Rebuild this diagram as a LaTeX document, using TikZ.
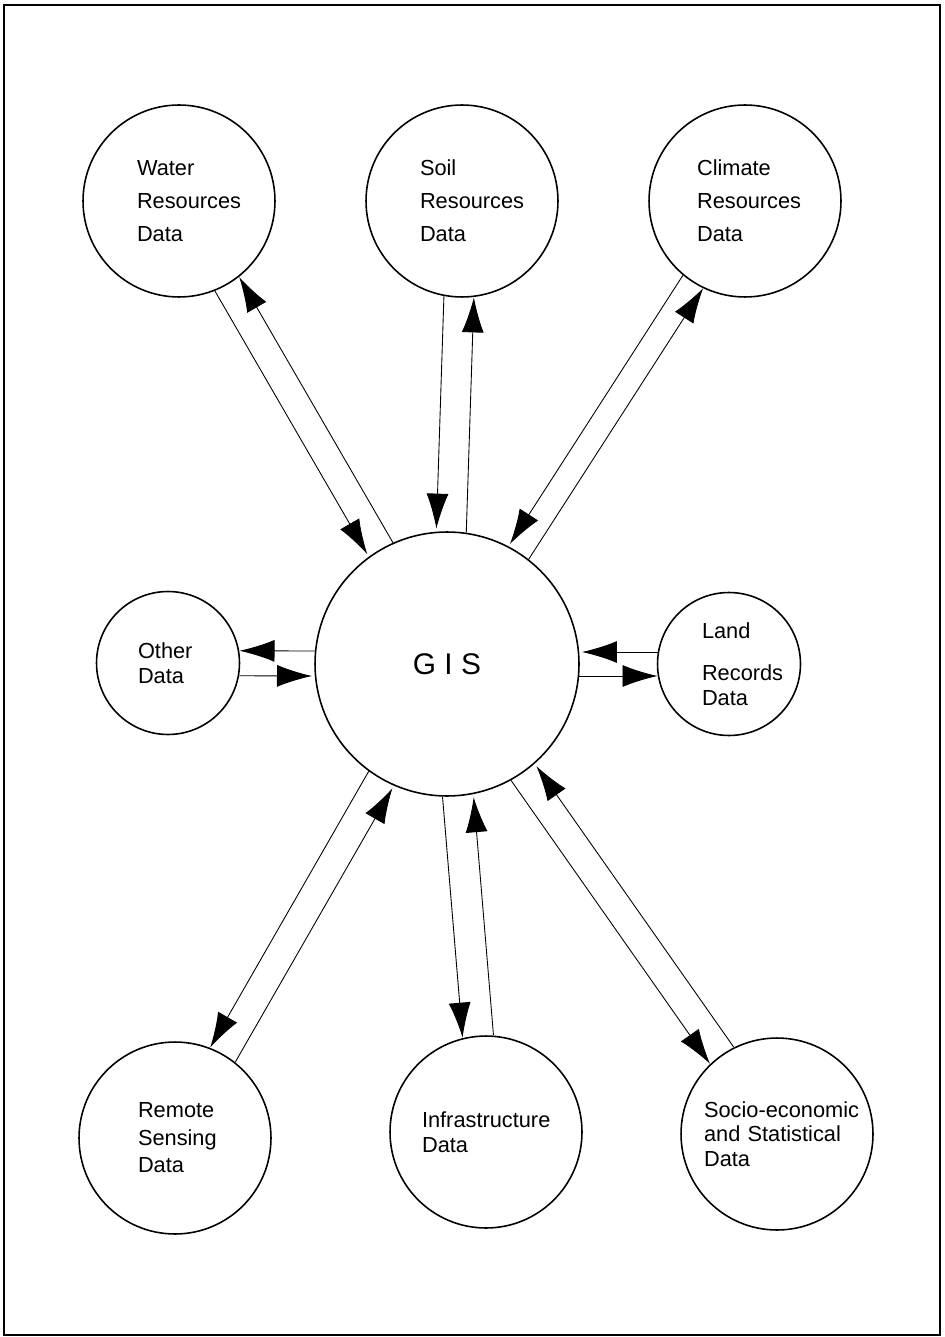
\documentclass[tikz,border=0pt]{standalone}
\usepackage{fontspec}
\setmainfont{Liberation Sans}
\usetikzlibrary{calc,arrows.meta}
\hyphenpenalty=10000
\exhyphenpenalty=10000

\begin{document}
\begin{tikzpicture}[x=0.02cm,y=-0.02cm,
    disc/.style={circle,draw,line width=0.9pt,inner sep=0pt,minimum size=3.84cm,align=left,font=\fontsize{12.4}{14.5}\selectfont},
    small disc/.style={disc,minimum size=2.86cm},
    tall/.style={font=\fontsize{12.4}{18.8}\selectfont},
    flow/.style={-{Latex[length=0.7cm,width=0.44cm]},line width=0.5pt}]
              \useasboundingbox (0,0) rectangle (944,1337);
              \draw[line width=1.2pt] (4,5) rectangle (940,1335);
              \node[disc,tall,text width=1.68cm](water)at(179,201){Water\\Resources\\Data};
              \node[disc,tall,text width=1.68cm](soil)at(462,201){Soil\\Resources\\Data};
              \node[disc,tall,text width=1.92cm](climate)at(745,201){Climate\\Resources\\Data};
              \node[circle,draw,line width=0.9pt,minimum size=5.28cm,font=\fontsize{17}{20}\selectfont](gis)at(447,664){G I S};
              \node[small disc,text width=1.2cm](other)at(168,663){Other\\Data};
              \node[small disc,text width=1.08cm](land)at(729,664){Land\\[9.4pt]Records\\Data};
              \node[disc,text width=1.48cm,font=\fontsize{12.4}{15.6}\selectfont](remote)at(175,1138){Remote\\Sensing\\Data};
              \node[disc,text width=2.56cm](infra)at(486,1132){Infrastructure\\Data};
              \node[disc,text width=2.92cm,font=\fontsize{12.4}{14}\selectfont](socio)at(777,1134){Socio-economic\\and Statistical\\Data};
              \foreach \nd/\rad/\gap in {water/1.92/0.28,soil/1.92/0.3,climate/1.92/0.24,other/1.43/0.25,land/1.43/0.24,remote/1.92/0.29,infra/1.92/0.31,socio/1.92/0.29}{
                \draw[flow,shorten <=\rad cm,shorten >=2.7cm] ($(\nd)!\gap cm!-90:(gis)$) -- ($(gis)!\gap cm!90:(\nd)$);
                \draw[flow,shorten <=2.64cm,shorten >=\rad cm] ($(gis)!\gap cm!-90:(\nd)$) -- ($(\nd)!\gap cm!90:(gis)$);
              }
            \end{tikzpicture}
\end{document}
